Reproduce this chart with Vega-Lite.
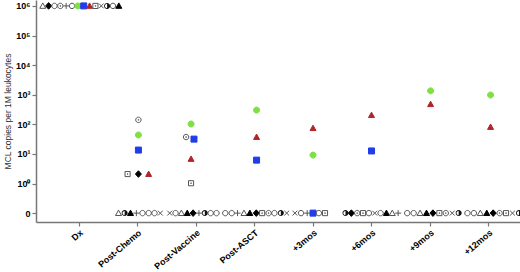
{
  "$schema": "https://vega.github.io/schema/vega-lite/v6.json",
  "width": 484,
  "height": 222,
  "autosize": {"type": "none"},
  "padding": {"left": 36, "top": 0, "right": 0, "bottom": 50},
  "background": "white",
  "config": {"view": {"stroke": null}, "font": "Liberation Sans"},
  "data": {"values": [
    {"time": "Dx", "patient": "P1", "slot": -6.2, "log10_copies": 6},
    {"time": "Dx", "patient": "P2", "slot": -5.2, "log10_copies": 6},
    {"time": "Dx", "patient": "P3", "slot": -4.2, "log10_copies": 6},
    {"time": "Dx", "patient": "P4", "slot": -3.2, "log10_copies": 6},
    {"time": "Dx", "patient": "P5", "slot": -2.2, "log10_copies": 6},
    {"time": "Dx", "patient": "P6", "slot": -1.2, "log10_copies": 6},
    {"time": "Dx", "patient": "P7", "slot": -0.2, "log10_copies": 6},
    {"time": "Dx", "patient": "P8", "slot": 0.8, "log10_copies": 6},
    {"time": "Dx", "patient": "P9", "slot": 1.8, "log10_copies": 6},
    {"time": "Dx", "patient": "P10", "slot": 2.8, "log10_copies": 6},
    {"time": "Dx", "patient": "P11", "slot": 3.8, "log10_copies": 6},
    {"time": "Dx", "patient": "P12", "slot": 4.8, "log10_copies": 6},
    {"time": "Dx", "patient": "P13", "slot": 5.8, "log10_copies": 6},
    {"time": "Dx", "patient": "P14", "slot": 6.8, "log10_copies": 6},

    {"time": "Post-Chemo", "patient": "P1", "slot": -3.25, "log10_copies": -1},
    {"time": "Post-Chemo", "patient": "P12", "slot": -2.2, "log10_copies": -1},
    {"time": "Post-Chemo", "patient": "P14", "slot": -1.2, "log10_copies": -1},
    {"time": "Post-Chemo", "patient": "P5", "slot": -0.2, "log10_copies": -1},
    {"time": "Post-Chemo", "patient": "P3", "slot": 0.85, "log10_copies": -1},
    {"time": "Post-Chemo", "patient": "P6", "slot": 1.9, "log10_copies": -1},
    {"time": "Post-Chemo", "patient": "P13", "slot": 2.9, "log10_copies": -1},
    {"time": "Post-Chemo", "patient": "P11", "slot": 3.9, "log10_copies": -1},
    {"time": "Post-Chemo", "patient": "P4", "slot": 0.15, "log10_copies": 2.15},
    {"time": "Post-Chemo", "patient": "P7", "slot": 0.15, "log10_copies": 1.64},
    {"time": "Post-Chemo", "patient": "P8", "slot": 0.15, "log10_copies": 1.13},
    {"time": "Post-Chemo", "patient": "P10", "slot": -1.7, "log10_copies": 0.32},
    {"time": "Post-Chemo", "patient": "P2", "slot": 0.15, "log10_copies": 0.32},
    {"time": "Post-Chemo", "patient": "P9", "slot": 1.9, "log10_copies": 0.32},

    {"time": "Post-Vaccine", "patient": "P11", "slot": -4.5, "log10_copies": -1},
    {"time": "Post-Vaccine", "patient": "P3", "slot": -3.5, "log10_copies": -1},
    {"time": "Post-Vaccine", "patient": "P1", "slot": -2.5, "log10_copies": -1},
    {"time": "Post-Vaccine", "patient": "P14", "slot": -1.5, "log10_copies": -1},
    {"time": "Post-Vaccine", "patient": "P2", "slot": -0.5, "log10_copies": -1},
    {"time": "Post-Vaccine", "patient": "P5", "slot": 0.5, "log10_copies": -1},
    {"time": "Post-Vaccine", "patient": "P12", "slot": 1.5, "log10_copies": -1},
    {"time": "Post-Vaccine", "patient": "P6", "slot": 2.5, "log10_copies": -1},
    {"time": "Post-Vaccine", "patient": "P13", "slot": 3.5, "log10_copies": -1},
    {"time": "Post-Vaccine", "patient": "P7", "slot": -0.85, "log10_copies": 2.01},
    {"time": "Post-Vaccine", "patient": "P4", "slot": -1.7, "log10_copies": 1.57},
    {"time": "Post-Vaccine", "patient": "P8", "slot": -0.35, "log10_copies": 1.5},
    {"time": "Post-Vaccine", "patient": "P9", "slot": -0.85, "log10_copies": 0.83},
    {"time": "Post-Vaccine", "patient": "P10", "slot": -0.85, "log10_copies": 0.01},

    {"time": "Post-ASCT", "patient": "P3", "slot": -5, "log10_copies": -1},
    {"time": "Post-ASCT", "patient": "P6", "slot": -3.9, "log10_copies": -1},
    {"time": "Post-ASCT", "patient": "P5", "slot": -2.9, "log10_copies": -1},
    {"time": "Post-ASCT", "patient": "P1", "slot": -1.8, "log10_copies": -1},
    {"time": "Post-ASCT", "patient": "P14", "slot": -0.8, "log10_copies": -1},
    {"time": "Post-ASCT", "patient": "P2", "slot": 0.3, "log10_copies": -1},
    {"time": "Post-ASCT", "patient": "P10", "slot": 1.3, "log10_copies": -1},
    {"time": "Post-ASCT", "patient": "P4", "slot": 2.4, "log10_copies": -1},
    {"time": "Post-ASCT", "patient": "P13", "slot": 3.4, "log10_copies": -1},
    {"time": "Post-ASCT", "patient": "P12", "slot": 4.5, "log10_copies": -1},
    {"time": "Post-ASCT", "patient": "P11", "slot": 5.5, "log10_copies": -1},
    {"time": "Post-ASCT", "patient": "P7", "slot": 0.35, "log10_copies": 2.48},
    {"time": "Post-ASCT", "patient": "P9", "slot": 0.35, "log10_copies": 1.57},
    {"time": "Post-ASCT", "patient": "P8", "slot": 0.35, "log10_copies": 0.79},

    {"time": "+3mos", "patient": "P11", "slot": -3.1, "log10_copies": -1},
    {"time": "+3mos", "patient": "P3", "slot": -2.05, "log10_copies": -1},
    {"time": "+3mos", "patient": "P5", "slot": -1.0, "log10_copies": -1},
    {"time": "+3mos", "patient": "P8", "slot": 0, "log10_copies": -1},
    {"time": "+3mos", "patient": "P6", "slot": 1.0, "log10_copies": -1},
    {"time": "+3mos", "patient": "P10", "slot": 2.05, "log10_copies": -1},
    {"time": "+3mos", "patient": "P9", "slot": 0, "log10_copies": 1.87},
    {"time": "+3mos", "patient": "P7", "slot": 0, "log10_copies": 0.96},

    {"time": "+6mos", "patient": "P12", "slot": -4.45, "log10_copies": -1},
    {"time": "+6mos", "patient": "P2", "slot": -3.45, "log10_copies": -1},
    {"time": "+6mos", "patient": "P4", "slot": -2.45, "log10_copies": -1},
    {"time": "+6mos", "patient": "P10", "slot": -1.45, "log10_copies": -1},
    {"time": "+6mos", "patient": "P3", "slot": -0.45, "log10_copies": -1},
    {"time": "+6mos", "patient": "P11", "slot": 0.55, "log10_copies": -1},
    {"time": "+6mos", "patient": "P6", "slot": 1.55, "log10_copies": -1},
    {"time": "+6mos", "patient": "P14", "slot": 2.55, "log10_copies": -1},
    {"time": "+6mos", "patient": "P1", "slot": 3.55, "log10_copies": -1},
    {"time": "+6mos", "patient": "P5", "slot": 4.55, "log10_copies": -1},
    {"time": "+6mos", "patient": "P9", "slot": 0, "log10_copies": 2.31},
    {"time": "+6mos", "patient": "P8", "slot": 0, "log10_copies": 1.1},

    {"time": "+9mos", "patient": "P3", "slot": -3.9, "log10_copies": -1},
    {"time": "+9mos", "patient": "P6", "slot": -2.8, "log10_copies": -1},
    {"time": "+9mos", "patient": "P1", "slot": -1.7, "log10_copies": -1},
    {"time": "+9mos", "patient": "P14", "slot": -0.6, "log10_copies": -1},
    {"time": "+9mos", "patient": "P2", "slot": 0.5, "log10_copies": -1},
    {"time": "+9mos", "patient": "P10", "slot": 1.6, "log10_copies": -1},
    {"time": "+9mos", "patient": "P4", "slot": 2.7, "log10_copies": -1},
    {"time": "+9mos", "patient": "P11", "slot": 3.8, "log10_copies": -1},
    {"time": "+9mos", "patient": "P12", "slot": 4.9, "log10_copies": -1},
    {"time": "+9mos", "patient": "P7", "slot": 0.1, "log10_copies": 3.13},
    {"time": "+9mos", "patient": "P9", "slot": 0.1, "log10_copies": 2.68},

    {"time": "+12mos", "patient": "P3", "slot": -3.6, "log10_copies": -1},
    {"time": "+12mos", "patient": "P6", "slot": -2.5, "log10_copies": -1},
    {"time": "+12mos", "patient": "P1", "slot": -1.4, "log10_copies": -1},
    {"time": "+12mos", "patient": "P14", "slot": -0.3, "log10_copies": -1},
    {"time": "+12mos", "patient": "P2", "slot": 0.8, "log10_copies": -1},
    {"time": "+12mos", "patient": "P4", "slot": 1.9, "log10_copies": -1},
    {"time": "+12mos", "patient": "P10", "slot": 3.0, "log10_copies": -1},
    {"time": "+12mos", "patient": "P11", "slot": 4.1, "log10_copies": -1},
    {"time": "+12mos", "patient": "P12", "slot": 5.2, "log10_copies": -1},
    {"time": "+12mos", "patient": "P7", "slot": 0.35, "log10_copies": 2.99},
    {"time": "+12mos", "patient": "P9", "slot": 0.35, "log10_copies": 1.91}
  ]},
  "mark": {"type": "point", "filled": true, "strokeWidth": 1, "opacity": 1},
  "encoding": {
    "x": {
      "field": "time", "type": "nominal",
      "sort": ["Dx", "Post-Chemo", "Post-Vaccine", "Post-ASCT", "+3mos", "+6mos", "+9mos", "+12mos"],
      "scale": {"paddingInner": 0, "paddingOuter": 0.137, "align": 0.86},
      "axis": {
        "title": null, "labelAngle": -40, "labelFontWeight": "bold", "labelFontSize": 9,
        "labelColor": "#000", "domainColor": "#777", "domainWidth": 1.5,
        "tickColor": "#777", "tickSize": 4, "tickWidth": 1.2, "labelPadding": 2, "bandPosition": 0.5, "grid": false
      }
    },
    "xOffset": {"field": "slot", "type": "quantitative", "scale": {"domain": [-5, 5], "nice": false, "zero": false}},
    "y": {
      "field": "log10_copies", "type": "quantitative",
      "scale": {"domain": [-1.3, 6.2], "nice": false, "zero": false},
      "axis": {
        "values": [-1, 0, 1, 2, 3, 4, 5, 6],
        "labelExpr": "datum.value < 0 ? '0' : '10' + ['⁰','¹','²','³','⁴','⁵','⁶'][datum.value]",
        "title": "MCL copies per 1M leukocytes", "titleFontSize": 8.5, "titleFontWeight": "normal",
        "titleColor": "#333", "titlePadding": 3,
        "labelFontWeight": "bold", "labelFontSize": 9, "labelColor": "#000",
        "domainColor": "#777", "domainWidth": 1.5, "tickColor": "#777", "tickSize": 4, "tickWidth": 1.2,
        "grid": false
      }
    },
    "shape": {
      "field": "patient", "type": "nominal", "legend": null,
      "scale": {
        "domain": ["P1","P2","P3","P4","P5","P6","P7","P8","P9","P10","P11","P12","P13","P14"],
        "range": [
          "M0,-1L1,0.8L-1,0.8Z",
          "M0,-1.1L1,0L0,1.1L-1,0Z",
          "M-0.9,0A0.9,0.9,0,1,1,0.9,0A0.9,0.9,0,1,1,-0.9,0Z",
          "M-0.9,0A0.9,0.9,0,1,1,0.9,0A0.9,0.9,0,1,1,-0.9,0ZM-0.15,0A0.15,0.15,0,1,1,0.15,0A0.15,0.15,0,1,1,-0.15,0Z",
          "M-1,0L1,0M0,-1L0,1",
          "M-0.9,0A0.9,0.9,0,1,1,0.9,0A0.9,0.9,0,1,1,-0.9,0Z",
          "M-1,0A1,1,0,1,1,1,0A1,1,0,1,1,-1,0Z",
          "M-1,-1L1,-1L1,1L-1,1Z",
          "M0,-1L1,0.8L-1,0.8Z",
          "M-0.85,-0.85L0.85,-0.85L0.85,0.85L-0.85,0.85ZM-0.15,0A0.15,0.15,0,1,1,0.15,0A0.15,0.15,0,1,1,-0.15,0Z",
          "M-0.8,-0.8L0.8,0.8M-0.8,0.8L0.8,-0.8",
          "M0,-1A1,1,0,1,1,0,1A1,1,0,1,1,0,-1ZM0,-0.72A0.72,0.72,0,1,0,0,0.72A0.72,0.72,0,1,0,0,-0.72ZM0,-0.72A0.72,0.72,0,0,1,0,0.72Z",
          "M-0.9,0A0.9,0.9,0,1,1,0.9,0A0.9,0.9,0,1,1,-0.9,0Z",
          "M0,-1L1,0.8L-1,0.8Z"
        ]
      }
    },
    "fill": {
      "field": "patient", "type": "nominal", "legend": null,
      "scale": {
        "domain": ["P1","P2","P3","P4","P5","P6","P7","P8","P9","P10","P11","P12","P13","P14"],
        "range": ["transparent","#000000","transparent","transparent","transparent","transparent","#7ee043","#1f3de8","#b0252a","transparent","transparent","#111111","transparent","#000000"]
      }
    },
    "stroke": {
      "field": "patient", "type": "nominal", "legend": null,
      "scale": {
        "domain": ["P1","P2","P3","P4","P5","P6","P7","P8","P9","P10","P11","P12","P13","P14"],
        "range": ["#555555","#000000","#555555","#555555","#555555","#555555","#7ee043","#1f3de8","#b0252a","#555555","#555555","transparent","#555555","#000000"]
      }
    },
    "size": {
      "field": "patient", "type": "nominal", "legend": null,
      "scale": {
        "domain": ["P1","P2","P3","P4","P5","P6","P7","P8","P9","P10","P11","P12","P13","P14"],
        "range": [36, 36, 36, 36, 36, 36, 52, 52, 52, 36, 30, 40, 36, 36]
      }
    }
  }
}
